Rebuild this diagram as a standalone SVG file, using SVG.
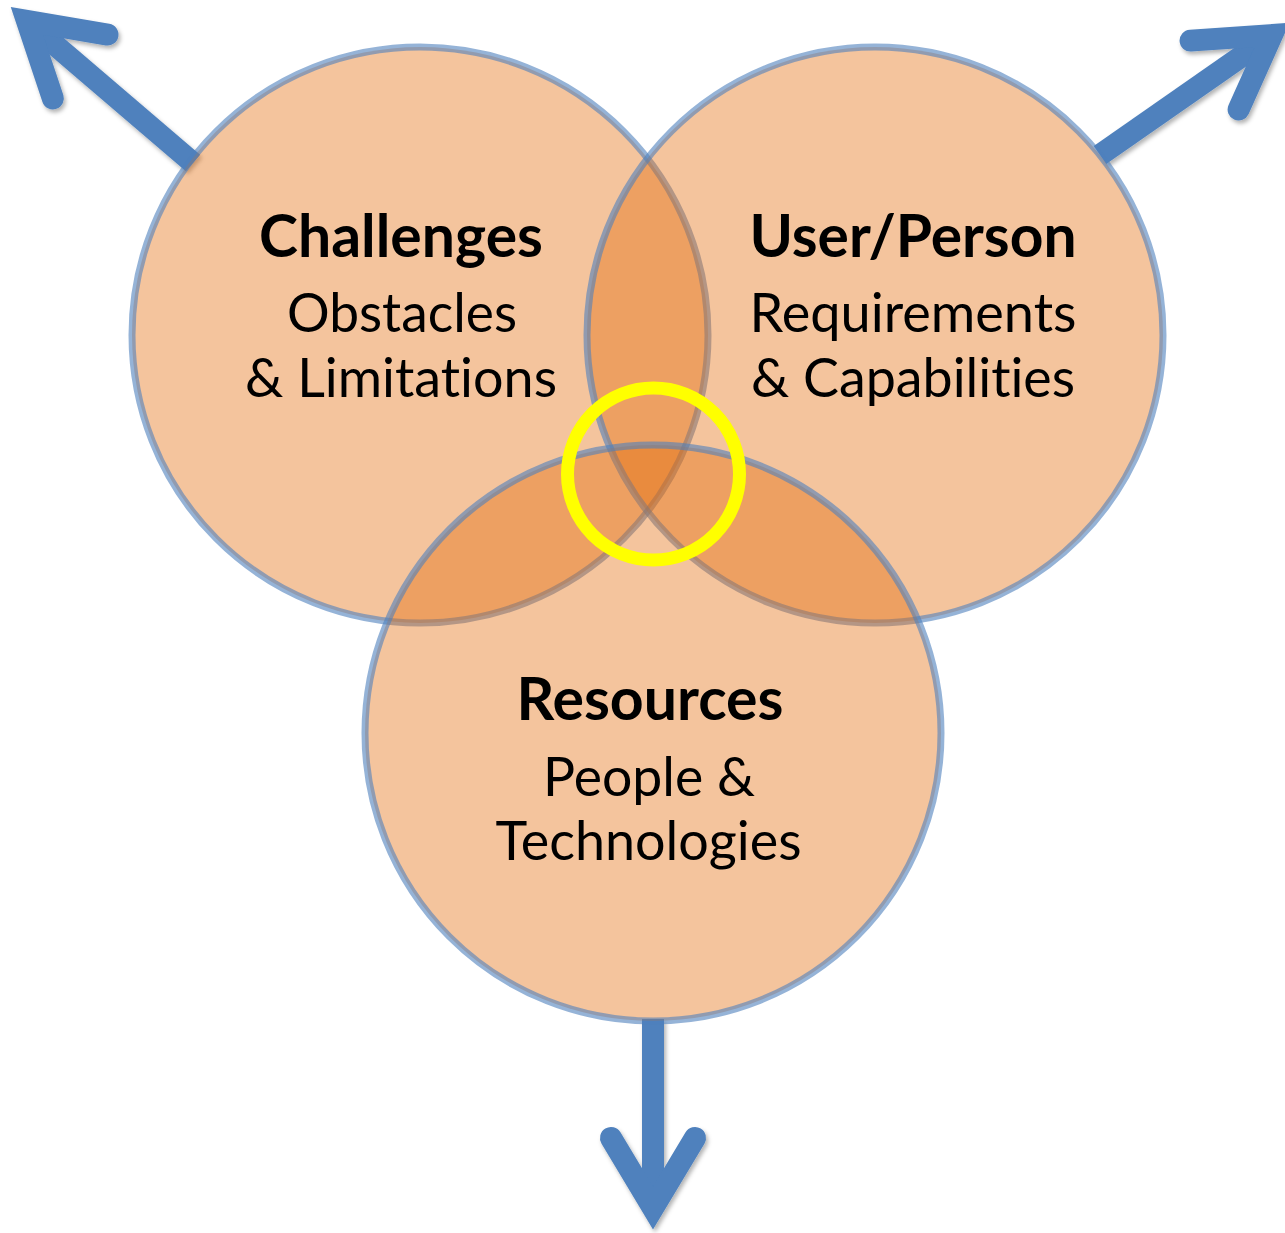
<svg xmlns="http://www.w3.org/2000/svg" width="1285" height="1233" viewBox="0 0 1285 1233">
  <style>
    .ring { fill: #E46C0A; fill-opacity: 0.4; stroke: #4F81BD; stroke-opacity: 0.6; stroke-width: 7; }
    text { font-variant-ligatures: none; font-feature-settings: "liga" 0, "clig" 0, "dlig" 0; }
    .title { font-family: Lato, "Liberation Sans", sans-serif; font-weight: bold; font-size: 59px; fill: #000; text-anchor: middle; }
    .sub { font-family: Lato, "Liberation Sans", sans-serif; font-size: 54px; fill: #000; text-anchor: middle; }
    .shaft { fill: none; stroke: #4F81BD; stroke-width: 22; stroke-linecap: butt; }
    .focus { fill: none; stroke: #FFFF00; stroke-width: 13; }
  </style>
  <defs>
    <marker id="head" markerUnits="userSpaceOnUse" orient="auto" markerWidth="1" markerHeight="1" refX="0" refY="0" overflow="visible">
      <path d="M-70,-42 L0,0 L-70,42" fill="none" stroke="#4F81BD" stroke-width="22" stroke-linecap="round" stroke-linejoin="miter"/>
    </marker>
    <filter id="shadow" x="-20%" y="-20%" width="140%" height="140%">
      <feDropShadow dx="2" dy="3" stdDeviation="2" flood-color="#000" flood-opacity="0.3"/>
    </filter>
  </defs>

  <!-- outward arrows, drawn under the circles -->
  <g id="connectors" filter="url(#shadow)">
    <line class="shaft" x1="193" y1="163" x2="27" y2="21" marker-end="url(#head)"/>
    <line class="shaft" x1="1100" y1="155" x2="1272" y2="35" marker-end="url(#head)"/>
    <line class="shaft" x1="653" y1="1019" x2="653" y2="1208" marker-end="url(#head)"/>
  </g>

  <g id="challenges">
    <circle class="ring" cx="420" cy="335" r="288"/>
    <text class="title" x="401" y="257" textLength="284" lengthAdjust="spacingAndGlyphs">Challenges</text>
    <text class="sub" x="402" y="332" textLength="230" lengthAdjust="spacingAndGlyphs">Obstacles</text>
    <text class="sub" x="401" y="397" textLength="312" lengthAdjust="spacingAndGlyphs">&amp; Limitations</text>
  </g>

  <g id="user-person">
    <circle class="ring" cx="875" cy="335" r="288"/>
    <text class="title" x="913" y="257" textLength="327" lengthAdjust="spacingAndGlyphs">User/Person</text>
    <text class="sub" x="913" y="332" textLength="327" lengthAdjust="spacingAndGlyphs">Requirements</text>
    <text class="sub" x="913" y="397" textLength="324" lengthAdjust="spacingAndGlyphs">&amp; Capabilities</text>
  </g>

  <g id="resources">
    <circle class="ring" cx="653" cy="733" r="288"/>
    <text class="title" x="650" y="720" textLength="267" lengthAdjust="spacingAndGlyphs">Resources</text>
    <text class="sub" x="649" y="796" textLength="212" lengthAdjust="spacingAndGlyphs">People &amp;</text>
    <text class="sub" x="648.5" y="860" textLength="306" lengthAdjust="spacingAndGlyphs">Technologies</text>
  </g>

  <!-- highlight ring around the common overlap -->
  <g id="focus">
    <circle class="focus" cx="653.5" cy="474" r="86"/>
  </g>
</svg>
